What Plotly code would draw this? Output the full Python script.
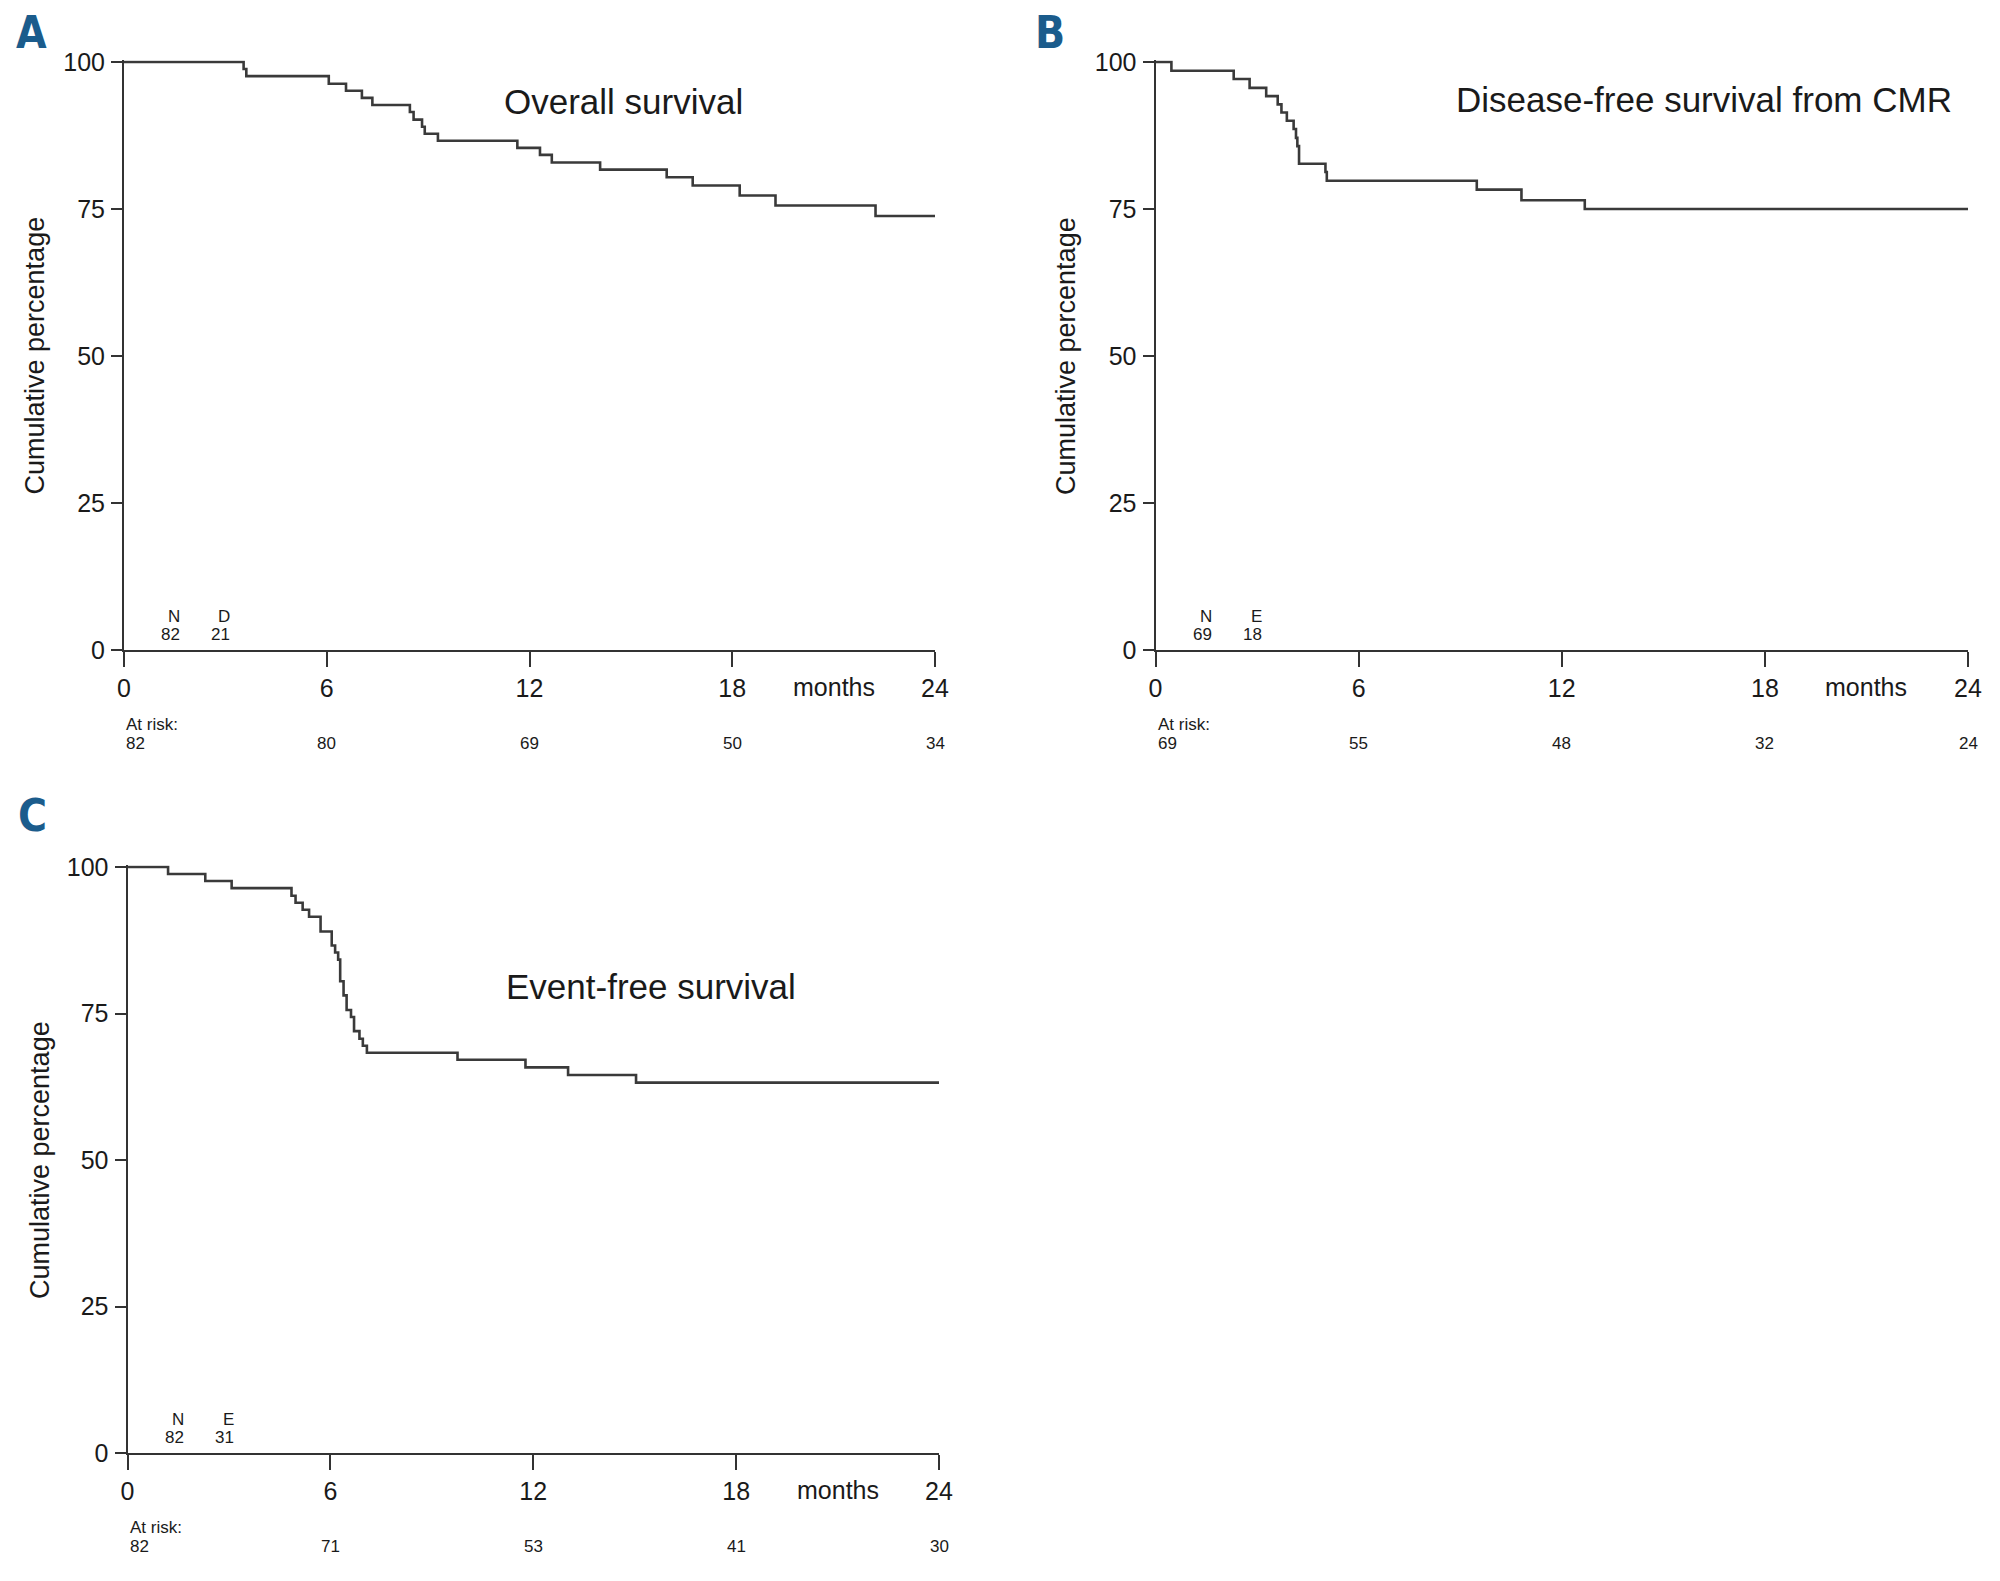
import plotly.graph_objects as go

# browser window 2000x1581; page body has an 8px margin
WIN_W, WIN_H = 2000, 1581
OFF = 8
W, H = WIN_W - 2 * OFF, WIN_H - 2 * OFF

# ---------------- data ----------------
month_ticks = [0, 6, 12, 18, 24]
pct_ticks = [0, 25, 50, 75, 100]

# A: Overall survival
os_months = [0, 3.54, 3.62, 6.06, 6.57, 7.04, 7.35, 8.46, 8.57, 8.82, 8.90, 9.29,
             11.64, 12.31, 12.66, 14.09, 16.06, 16.83, 18.22, 19.28, 22.24, 24]
os_pct = [100, 98.8, 97.6, 96.3, 95.1, 93.9, 92.7, 91.5, 90.2, 89.0, 87.8, 86.6,
          85.4, 84.2, 82.9, 81.7, 80.4, 79.0, 77.3, 75.6, 73.8, 73.8]
os_at_risk = [82, 80, 69, 50, 34]

# B: Disease-free survival from CMR
dfs_months = [0, 0.47, 2.31, 2.78, 3.27, 3.61, 3.72, 3.88, 4.08, 4.15, 4.19, 4.24,
              5.02, 5.06, 9.49, 10.81, 12.68, 24]
dfs_pct = [100, 98.5, 97.1, 95.6, 94.2, 92.8, 91.4, 90.0, 88.6, 87.1, 85.7, 82.7,
           81.3, 79.8, 78.3, 76.5, 75.0, 75.0]
dfs_at_risk = [69, 55, 48, 32, 24]

# C: Event-free survival
efs_months = [0, 1.20, 2.30, 3.08, 4.85, 4.97, 5.18, 5.37, 5.71, 6.04, 6.14, 6.23,
              6.29, 6.39, 6.48, 6.61, 6.70, 6.86, 6.96, 7.08, 9.76, 11.77, 13.03, 15.04, 24]
efs_pct = [100, 98.8, 97.6, 96.4, 95.1, 93.9, 92.7, 91.5, 89.0, 86.6, 85.4, 84.2,
           80.5, 78.1, 75.6, 74.4, 72.0, 70.7, 69.5, 68.3, 67.1, 65.8, 64.5, 63.2, 63.2]
efs_at_risk = [82, 71, 53, 41, 30]

panels = [
    dict(letter="A", title="Overall survival", months=os_months, pct=os_pct,
         at_risk=os_at_risk, n_label="N", e_label="D", n_val="82", e_val="21"),
    dict(letter="B", title="Disease-free survival from CMR", months=dfs_months, pct=dfs_pct,
         at_risk=dfs_at_risk, n_label="N", e_label="E", n_val="69", e_val="18"),
    dict(letter="C", title="Event-free survival", months=efs_months, pct=efs_pct,
         at_risk=efs_at_risk, n_label="N", e_label="E", n_val="82", e_val="31"),
]

# ---------------- layout geometry (window pixels) ----------------
geom = [
    dict(l=124, r=935, t=62, b=650, title_xy=(623.5, 102), ytitle_x=34.5, letter_xy=(31, 32)),
    dict(l=1155.5, r=1968, t=62, b=650, title_xy=(1704, 100), ytitle_x=1066, letter_xy=(1050, 32)),
    dict(l=127.5, r=939, t=867, b=1453, title_xy=(651, 986), ytitle_x=40, letter_xy=(32, 816)),
]

FONT = "Liberation Sans, Arial, Helvetica, sans-serif"
LETTER_FONT = "Liberation Sans Narrow, DejaVu Sans Condensed, Arial Narrow, Liberation Sans, sans-serif"
AX = "#333333"
TXT = "#1a1a1a"
Y_EXT = 0.3  # tiny headroom so the 100% line is not clipped


def px(x):
    return (x - OFF) / W


def py(y):
    return 1 - (y - OFF) / H


fig = go.Figure()
annotations = []
layout_axes = {}

for i, (p, g) in enumerate(zip(panels, geom)):
    n = "" if i == 0 else str(i + 1)
    xa, ya = "x" + n, "y" + n
    fig.add_trace(go.Scatter(
        x=p["months"], y=p["pct"], mode="lines", line=dict(color="#3a3a3a", width=2.6, shape="hv"),
        xaxis=xa, yaxis=ya, cliponaxis=False, showlegend=False, hoverinfo="skip"))

    ppu = (g["b"] - g["t"]) / 100.0
    top_px = g["t"] - Y_EXT * ppu

    layout_axes["xaxis" + n] = dict(
        domain=[px(g["l"]), px(g["r"])], anchor=ya, range=[0, 24], automargin=False,
        tickvals=month_ticks, ticktext=[str(t) for t in month_ticks],
        showline=True, linecolor=AX, linewidth=2, ticks="outside", ticklen=15,
        tickwidth=2, tickcolor=AX, showgrid=False, zeroline=False,
        tickfont=dict(family=FONT, size=25, color=TXT), ticklabelstandoff=0)
    layout_axes["yaxis" + n] = dict(
        domain=[py(g["b"]), py(top_px)], anchor=xa, range=[0, 100 + Y_EXT], automargin=False,
        tickvals=pct_ticks, showline=True, linecolor=AX, linewidth=2, ticks="outside",
        ticklen=11, tickwidth=2, tickcolor=AX, showgrid=False, zeroline=False,
        tickfont=dict(family=FONT, size=25, color=TXT), ticklabelstandoff=1)

    # panel letter
    annotations.append(dict(
        text="<b>%s</b>" % p["letter"], x=px(g["letter_xy"][0]), y=py(g["letter_xy"][1]),
        xref="paper", yref="paper", xanchor="center", yanchor="middle", showarrow=False,
        font=dict(family=LETTER_FONT, size=44, color="#1b5c8c")))
    # chart title
    annotations.append(dict(
        text=p["title"], x=px(g["title_xy"][0]), y=py(g["title_xy"][1]),
        xref="paper", yref="paper", xanchor="center", yanchor="middle", showarrow=False,
        font=dict(family=FONT, size=35, color=TXT)))
    # y-axis title
    annotations.append(dict(
        text="Cumulative percentage", x=px(g["ytitle_x"]), y=py((g["t"] + g["b"]) / 2),
        xref="paper", yref="paper", xanchor="center", yanchor="middle", showarrow=False,
        textangle=-90, font=dict(family=FONT, size=27, color=TXT)))
    # months label
    annotations.append(dict(
        text="months", x=21, y=py(g["b"] + 37), xref=xa, yref="paper",
        xanchor="center", yanchor="middle", showarrow=False,
        font=dict(family=FONT, size=25, color=TXT)))
    # N / events box
    for lab, val, dx in [(p["n_label"], p["n_val"], 58), (p["e_label"], p["e_val"], 108)]:
        annotations.append(dict(
            text=lab, x=px(g["l"] + dx), y=py(g["b"] - 34), xref="paper", yref="paper",
            xanchor="right", yanchor="middle", showarrow=False,
            font=dict(family=FONT, size=17, color=TXT)))
        annotations.append(dict(
            text=val, x=px(g["l"] + dx), y=py(g["b"] - 16), xref="paper", yref="paper",
            xanchor="right", yanchor="middle", showarrow=False,
            font=dict(family=FONT, size=17, color=TXT)))
    # at risk
    annotations.append(dict(
        text="At risk:", x=0, y=py(g["b"] + 74), xref=xa, yref="paper",
        xanchor="left", yanchor="middle", showarrow=False,
        font=dict(family=FONT, size=17, color=TXT)))
    for j, (m, v) in enumerate(zip(month_ticks, p["at_risk"])):
        annotations.append(dict(
            text=str(v), x=m, y=py(g["b"] + 93), xref=xa, yref="paper",
            xanchor="left" if j == 0 else "center", yanchor="middle", showarrow=False,
            font=dict(family=FONT, size=17, color=TXT)))

fig.update_layout(
    template="none",
    width=W, height=H, margin=dict(l=0, r=0, t=0, b=0, pad=0, autoexpand=False),
    paper_bgcolor="white", plot_bgcolor="white", showlegend=False,
    annotations=annotations, **layout_axes)

fig.write_html("out.html")
